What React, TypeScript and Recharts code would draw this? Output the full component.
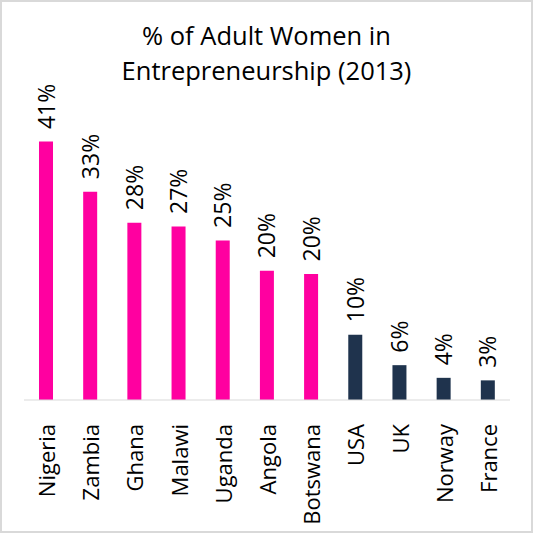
import React from "react";
import { BarChart, Bar, XAxis, YAxis, Cell, LabelList } from "recharts";

const countries = ["Nigeria", "Zambia", "Ghana", "Malawi", "Uganda", "Angola", "Botswana", "USA", "UK", "Norway", "France"];
const shares = [40.8, 32.9, 28.0, 27.4, 25.2, 20.4, 19.9, 10.3, 5.5, 3.5, 3.1];
const groups = ["africa", "africa", "africa", "africa", "africa", "africa", "africa", "other", "other", "other", "other"];
const titleLines = ["% of Adult Women in", "Entrepreneurship (2013)"];

const groupColors: Record<string, string> = { africa: "#FF00A0", other: "#1F334D" };

const data = countries.map((c, i) => ({ country: c, value: shares[i], group: groups[i] }));

const FONT = "'Open Sans', 'Noto Sans', sans-serif";

const CategoryTick = (props: any) => {
  const { x, y, payload } = props;
  return (
    <g transform={`translate(${x + 9},${y + 16})`}>
      <text transform="rotate(-90)" textAnchor="end" fontSize={22} fontFamily={FONT} fill="#000">
        {payload.value}
      </text>
    </g>
  );
};

const ValueLabel = (props: any) => {
  const { x, y, width, value } = props;
  const cx = x + width / 2 + 8.5;
  const cy = y - 12.5;
  return (
    <g transform={`translate(${cx},${cy})`}>
      <text transform="rotate(-90)" textAnchor="start" fontSize={23} fontFamily={FONT} fill="#000">
        {`${Math.round(value)}%`}
      </text>
    </g>
  );
};

export default function App() {
  return (
    <div style={{ position: "fixed", left: 0, top: 0, width: 533, height: 533, background: "#fff" }}>
      <svg width={533} height={533} style={{ position: "absolute", left: 0, top: 0 }}>
        <text x={266.5} y={45} textAnchor="middle" fontSize={25.5} fontFamily={FONT} fill="#000">
          {titleLines[0]}
        </text>
        <text x={266.5} y={80} textAnchor="middle" fontSize={25.5} fontFamily={FONT} fill="#000">
          {titleLines[1]}
        </text>
      </svg>
      <div style={{ position: "absolute", left: 0, top: 0 }}>
        <BarChart width={533} height={533} data={data} margin={{ top: 115, right: 23, bottom: 0, left: 24 }}>
          <YAxis hide domain={[0, 45]} />
          <XAxis
            dataKey="country"
            height={133}
            interval={0}
            tickLine={false}
            axisLine={{ stroke: "#D9D9D9", strokeWidth: 1 }}
            tick={<CategoryTick />}
          />
          <Bar dataKey="value" barSize={14} isAnimationActive={false}>
            {data.map((d, i) => (
              <Cell key={i} fill={groupColors[d.group]} />
            ))}
            <LabelList dataKey="value" content={<ValueLabel />} />
          </Bar>
        </BarChart>
      </div>
      <div
        style={{
          position: "absolute",
          left: 0,
          top: 0,
          width: 533,
          height: 533,
          boxSizing: "border-box",
          border: "2px solid #D9D9D9",
          pointerEvents: "none",
        }}
      />
    </div>
  );
}
